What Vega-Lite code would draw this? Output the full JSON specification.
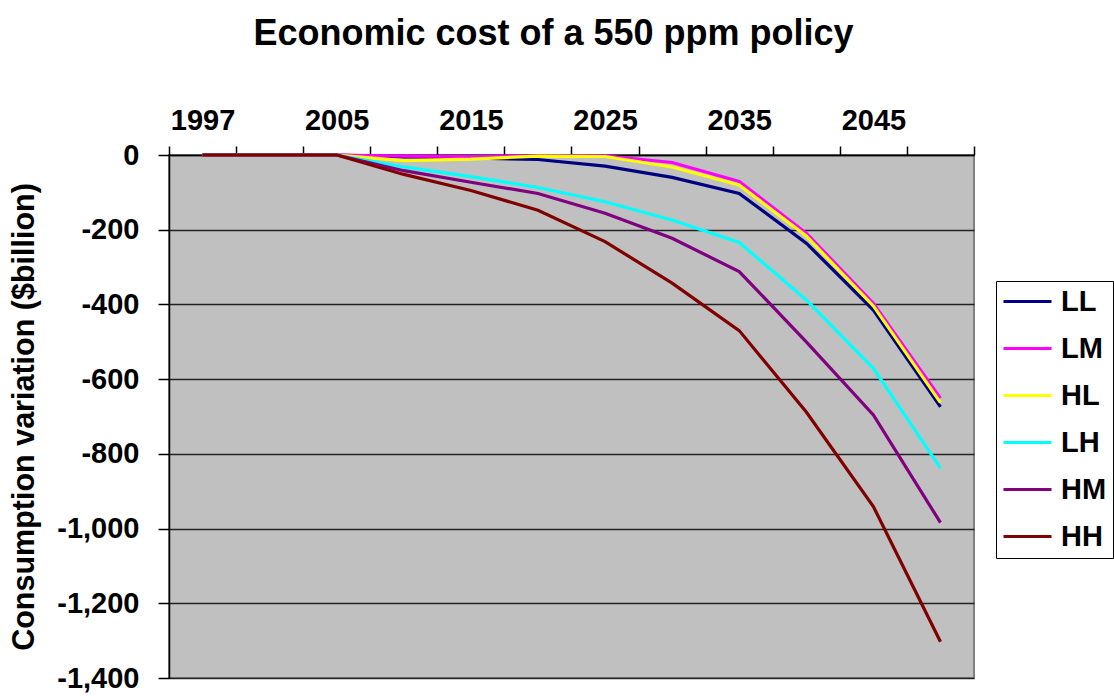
{
  "$schema": "https://vega.github.io/schema/vega-lite/v6.json",
  "width": 805,
  "height": 523,
  "autosize": {"type": "none"},
  "padding": {"left": 169, "top": 155, "right": 140, "bottom": 18},
  "background": "white",
  "title": {
    "text": "Economic cost of a 550 ppm policy",
    "font": "Liberation Sans",
    "fontSize": 36,
    "fontWeight": "bold",
    "color": "black",
    "anchor": "middle",
    "dx": -18,
    "offset": 53
  },
  "config": {
    "view": {"fill": "#C0C0C0", "stroke": "#808080", "strokeWidth": 2},
    "axis": {
      "labelFont": "Liberation Sans",
      "labelFontWeight": "bold",
      "labelFontSize": 29,
      "labelColor": "black",
      "titleFont": "Liberation Sans",
      "titleFontWeight": "bold",
      "titleFontSize": 30.5,
      "titleColor": "black",
      "domainColor": "black",
      "tickColor": "black",
      "domainWidth": 1.5,
      "tickWidth": 1.5
    },
    "legend": {
      "labelFont": "Liberation Sans",
      "labelFontWeight": "bold",
      "labelFontSize": 29,
      "labelColor": "black"
    }
  },
  "data": {
    "values": [
      {"year": "1997", "s": "LL", "v": 0}, {"year": "2000", "s": "LL", "v": 0}, {"year": "2005", "s": "LL", "v": 0}, {"year": "2010", "s": "LL", "v": -5}, {"year": "2015", "s": "LL", "v": -8}, {"year": "2020", "s": "LL", "v": -12}, {"year": "2025", "s": "LL", "v": -30}, {"year": "2030", "s": "LL", "v": -60}, {"year": "2035", "s": "LL", "v": -103}, {"year": "2040", "s": "LL", "v": -236}, {"year": "2045", "s": "LL", "v": -415}, {"year": "2050", "s": "LL", "v": -674},
      {"year": "1997", "s": "LM", "v": 0}, {"year": "2000", "s": "LM", "v": 0}, {"year": "2005", "s": "LM", "v": 0}, {"year": "2010", "s": "LM", "v": -3}, {"year": "2015", "s": "LM", "v": -4}, {"year": "2020", "s": "LM", "v": -2}, {"year": "2025", "s": "LM", "v": -2}, {"year": "2030", "s": "LM", "v": -20}, {"year": "2035", "s": "LM", "v": -71}, {"year": "2040", "s": "LM", "v": -209}, {"year": "2045", "s": "LM", "v": -397}, {"year": "2050", "s": "LM", "v": -651},
      {"year": "1997", "s": "HL", "v": 0}, {"year": "2000", "s": "HL", "v": 0}, {"year": "2005", "s": "HL", "v": 0}, {"year": "2010", "s": "HL", "v": -15}, {"year": "2015", "s": "HL", "v": -11}, {"year": "2020", "s": "HL", "v": -3}, {"year": "2025", "s": "HL", "v": -4}, {"year": "2030", "s": "HL", "v": -32}, {"year": "2035", "s": "HL", "v": -80}, {"year": "2040", "s": "HL", "v": -217}, {"year": "2045", "s": "HL", "v": -404}, {"year": "2050", "s": "HL", "v": -663},
      {"year": "1997", "s": "LH", "v": 0}, {"year": "2000", "s": "LH", "v": 0}, {"year": "2005", "s": "LH", "v": 0}, {"year": "2010", "s": "LH", "v": -32}, {"year": "2015", "s": "LH", "v": -58}, {"year": "2020", "s": "LH", "v": -87}, {"year": "2025", "s": "LH", "v": -125}, {"year": "2030", "s": "LH", "v": -174}, {"year": "2035", "s": "LH", "v": -234}, {"year": "2040", "s": "LH", "v": -388}, {"year": "2045", "s": "LH", "v": -571}, {"year": "2050", "s": "LH", "v": -838},
      {"year": "1997", "s": "HM", "v": 0}, {"year": "2000", "s": "HM", "v": 0}, {"year": "2005", "s": "HM", "v": 0}, {"year": "2010", "s": "HM", "v": -42}, {"year": "2015", "s": "HM", "v": -73}, {"year": "2020", "s": "HM", "v": -103}, {"year": "2025", "s": "HM", "v": -156}, {"year": "2030", "s": "HM", "v": -223}, {"year": "2035", "s": "HM", "v": -312}, {"year": "2040", "s": "HM", "v": -500}, {"year": "2045", "s": "HM", "v": -696}, {"year": "2050", "s": "HM", "v": -984},
      {"year": "1997", "s": "HH", "v": 0}, {"year": "2000", "s": "HH", "v": 0}, {"year": "2005", "s": "HH", "v": 0}, {"year": "2010", "s": "HH", "v": -52}, {"year": "2015", "s": "HH", "v": -95}, {"year": "2020", "s": "HH", "v": -148}, {"year": "2025", "s": "HH", "v": -232}, {"year": "2030", "s": "HH", "v": -343}, {"year": "2035", "s": "HH", "v": -470}, {"year": "2040", "s": "HH", "v": -688}, {"year": "2045", "s": "HH", "v": -941}, {"year": "2050", "s": "HH", "v": -1303}
    ]
  },
  "mark": {"type": "line", "strokeWidth": 3.2},
  "encoding": {
    "x": {
      "field": "year",
      "type": "ordinal",
      "sort": null,
      "scale": {"type": "band", "paddingInner": 0, "paddingOuter": 0},
      "axis": {
        "orient": "top",
        "title": null,
        "labelAngle": 0,
        "tickBand": "extent",
        "tickSize": 9,
        "labelPadding": 11,
        "grid": false,
        "labelExpr": "indexof(['1997','2005','2015','2025','2035','2045'], datum.label) >= 0 ? datum.label : ''"
      }
    },
    "y": {
      "field": "v",
      "type": "quantitative",
      "scale": {"domain": [-1400, 0], "nice": false},
      "axis": {
        "title": "Consumption variation ($billion)",
        "values": [0, -200, -400, -600, -800, -1000, -1200, -1400],
        "labelExpr": "replace(format(datum.value, ','), '−', '-')",
        "tickSize": 11,
        "labelPadding": 19,
        "titlePadding": 17,
        "grid": true,
        "gridColor": "#222222",
        "gridWidth": 1.5
      }
    },
    "color": {
      "field": "s",
      "type": "nominal",
      "sort": ["LL", "LM", "HL", "LH", "HM", "HH"],
      "scale": {
        "domain": ["LL", "LM", "HL", "LH", "HM", "HH"],
        "range": ["#000080", "#FF00FF", "#FFFF00", "#00FFFF", "#800080", "#800000"]
      },
      "legend": {
        "title": null,
        "orient": "none",
        "legendX": 827,
        "legendY": 126,
        "strokeColor": "black",
        "fillColor": "white",
        "padding": 6,
        "symbolType": "stroke",
        "symbolSize": 2304,
        "symbolStrokeWidth": 3,
        "clipHeight": 29,
        "rowPadding": 17,
        "labelOffset": 8
      }
    }
  }
}
